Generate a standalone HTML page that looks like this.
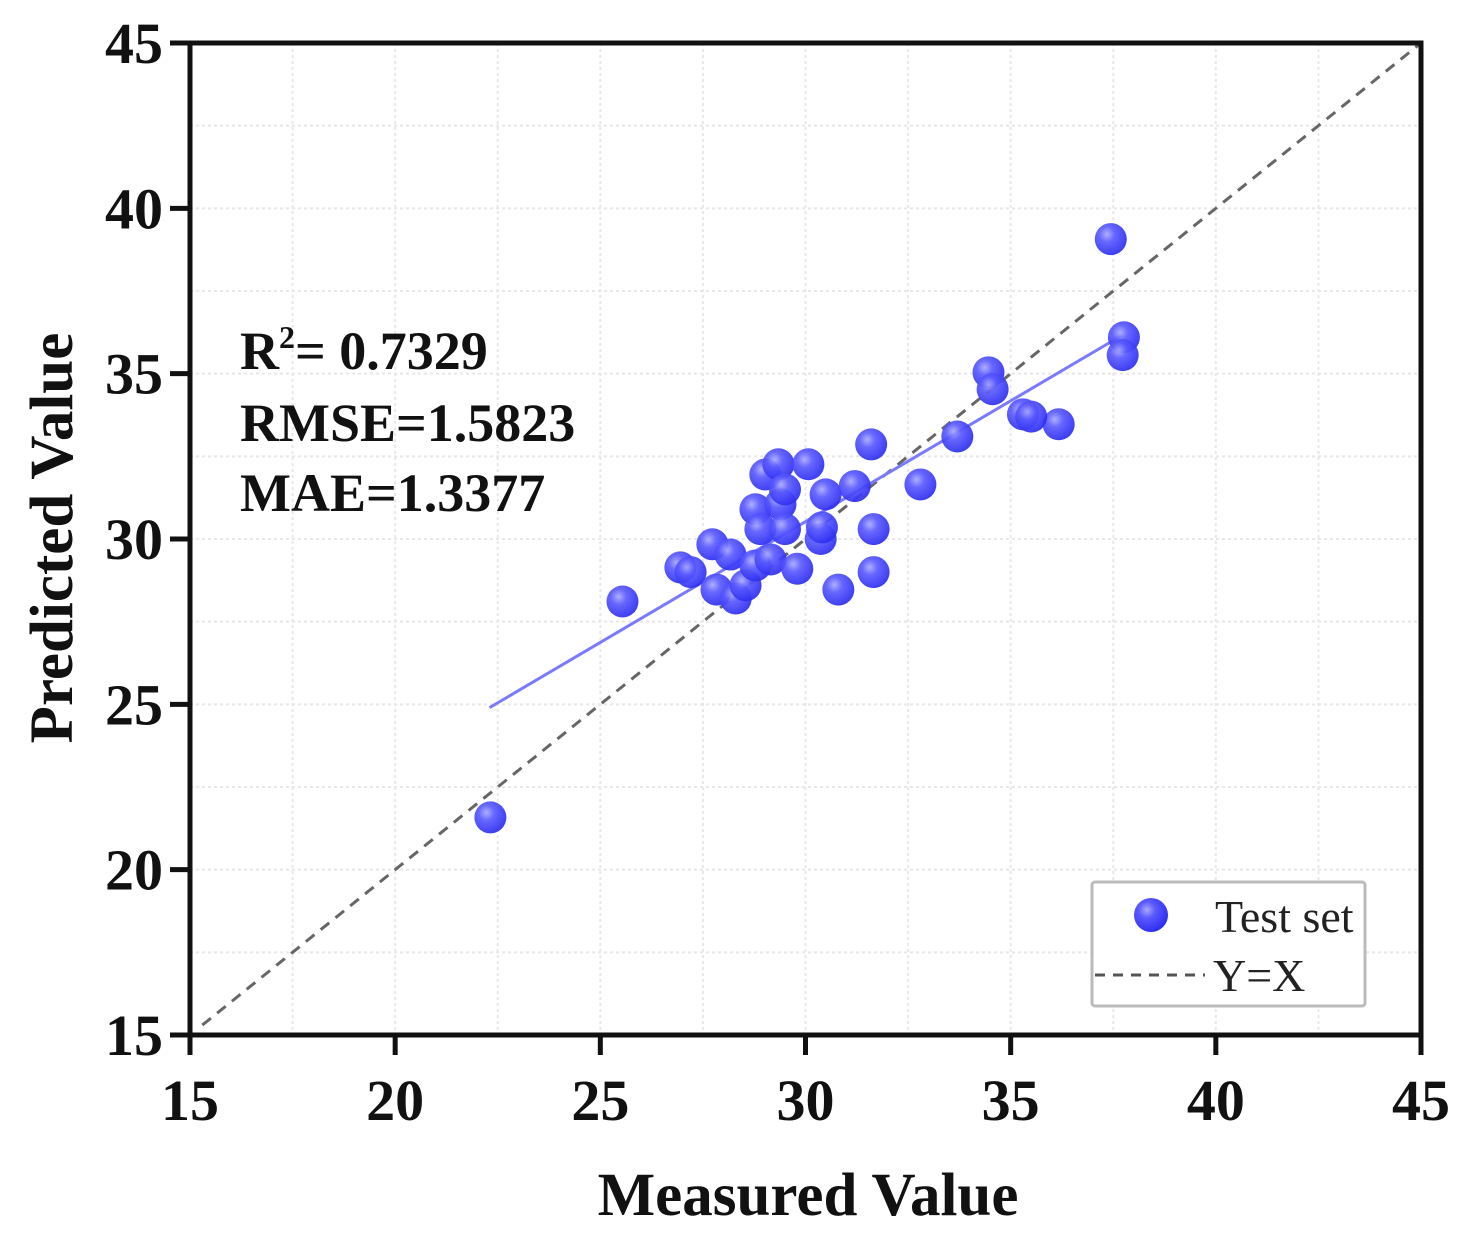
<!DOCTYPE html>
<html><head><meta charset="utf-8"><style>
html,body{margin:0;padding:0;background:#fff;}
svg text{font-family:"Liberation Serif",serif;}
</style></head><body>
<svg id="chart" width="1469" height="1235" xmlns="http://www.w3.org/2000/svg">
<defs>
<radialGradient id="ball" cx="0.38" cy="0.35" r="0.7">
<stop offset="0" stop-color="#a8a8ff"/><stop offset="0.35" stop-color="#5a5aff"/><stop offset="1" stop-color="#2a2af0"/>
</radialGradient>
</defs>
<g id="grid"></g>
<g id="refline"></g>
<g id="fit"></g>
<g id="pts"></g>
<g id="axes"></g>
<g font-weight="bold" font-size="54" fill="#111">
<text x="240" y="369">R<tspan font-size="32" dy="-21">2</tspan><tspan dy="21">= 0.7329</tspan></text>
<text x="240" y="441">RMSE=1.5823</text>
<text x="240" y="511">MAE=1.3377</text>
</g>
<g>
<rect x="1092" y="882" width="273" height="124" fill="#fff" stroke="#bbb" stroke-width="3" rx="3"/>
<circle cx="1151" cy="915" r="17" fill="url(#ball)"/>
<text x="1215" y="932" font-size="46" fill="#222">Test set</text>
<line x1="1095" y1="975" x2="1205" y2="975" stroke="#555" stroke-width="3" stroke-dasharray="10,8"/>
<text x="1213" y="991" font-size="46" fill="#222">Y=X</text>
</g>
<text x="808" y="1215" text-anchor="middle" font-size="61" font-weight="bold" fill="#111">Measured Value</text>
<text transform="translate(72,538) rotate(-90)" text-anchor="middle" font-size="61" font-weight="bold" fill="#111">Predicted Value</text>
</svg>
<script>
const measured=[22.32,25.54,26.95,27.2,27.73,27.83,28.3,28.54,28.17,28.78,28.78,29.02,29.34,28.9,29.39,29.5,29.15,29.8,30.07,29.5,30.37,30.4,30.49,31.2,30.8,31.6,31.66,31.66,32.8,33.7,34.46,34.56,35.3,36.17,37.44,37.76,37.73,35.5];
const predicted=[21.58,28.11,29.14,29.0,29.84,28.47,28.2,28.6,29.53,29.2,30.9,31.95,32.26,30.3,31.05,31.5,29.38,29.1,32.26,30.3,30.0,30.35,31.35,31.6,28.47,32.86,30.3,29.0,31.65,33.1,35.04,34.53,33.77,33.47,39.07,36.1,35.56,33.7];
const fitX=[22.3,37.7];
const fitY=[24.9,36.15];
const ticks=[15,20,25,30,35,40,45];
const gridVals=[17.5,20,22.5,25,27.5,30,32.5,35,37.5,40,42.5];
const X0=190,X1=1421,Y0=1035,Y1=43,MIN=15,MAX=45;
const sx=v=>X0+(v-MIN)*(X1-X0)/(MAX-MIN);
const sy=v=>Y0-(v-MIN)*(Y0-Y1)/(MAX-MIN);
const NS="http://www.w3.org/2000/svg";
function mk(tag,attrs,parent){const e=document.createElementNS(NS,tag);for(const k in attrs)e.setAttribute(k,attrs[k]);parent.appendChild(e);return e;}
const grid=document.getElementById('grid');
gridVals.forEach(v=>{
  const a=mk('line',{x1:sx(v),x2:sx(v),y1:Y1,y2:Y0,stroke:'#e8e8e8','stroke-width':2,'stroke-dasharray':'3,3'},grid);
  
  
  const b=mk('line',{x1:X0,x2:X1,y1:sy(v),y2:sy(v),stroke:'#e8e8e8','stroke-width':2,'stroke-dasharray':'3,3'},grid);
  
  
});
const rl=mk('line',{x1:sx(15.3),y1:sy(15.3),x2:sx(45),y2:sy(45),stroke:'#666','stroke-width':3,'stroke-dasharray':'11,8'},document.getElementById('refline'));


const fl=mk('line',{x1:sx(fitX[0]),y1:sy(fitY[0]),x2:sx(fitX[1]),y2:sy(fitY[1]),stroke:'#7a7aff','stroke-width':3},document.getElementById('fit'));


const pts=document.getElementById('pts');
measured.forEach((m,i)=>{
  const c=mk('circle',{cx:sx(m),cy:sy(predicted[i]),r:16,fill:'url(#ball)','fill-opacity':0.92},pts);
  
  
});
const ax=document.getElementById('axes');
const fr=mk('rect',{x:X0,y:Y1,width:X1-X0,height:Y0-Y1,fill:'none',stroke:'#111','stroke-width':5},ax);


ticks.forEach(t=>{
  const a=mk('line',{x1:sx(t),x2:sx(t),y1:Y0,y2:Y0+20,stroke:'#111','stroke-width':5},ax);
  
  
  const b=mk('line',{x1:X0-20,x2:X0,y1:sy(t),y2:sy(t),stroke:'#111','stroke-width':5},ax);
  
  
  const tx=mk('text',{x:sx(t),y:1120,'text-anchor':'middle','font-size':58,'font-weight':'bold',fill:'#111'},ax);
  tx.textContent=t;
  
  
  const ty=mk('text',{x:163,y:sy(t)+20,'text-anchor':'end','font-size':58,'font-weight':'bold',fill:'#111'},ax);
  ty.textContent=t;
  
  
});
</script>
</body></html>
